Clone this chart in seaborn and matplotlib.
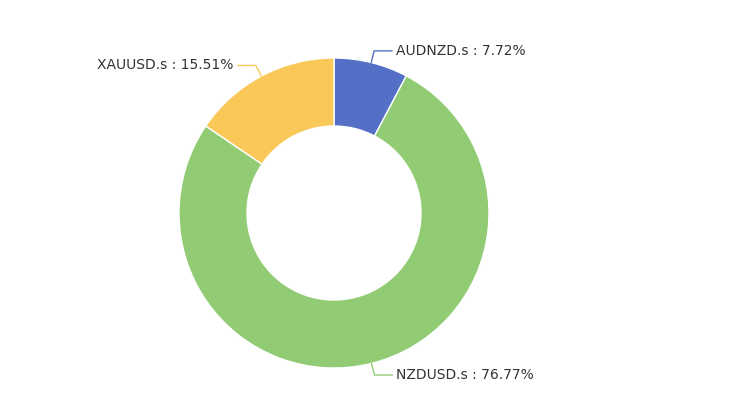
import matplotlib
matplotlib.use("Agg")
import matplotlib.pyplot as plt
import seaborn as sns
import numpy as np

labels = ["AUDNZD.s", "NZDUSD.s", "XAUUSD.s"]
values = [7.72, 76.77, 15.51]
colors = ["#5470c6", "#91cc75", "#fac858"]

sns.set_theme(style="white")
plt.rcParams['font.family'] = ['DejaVu Sans']

fig = plt.figure(figsize=(7.4, 4.16), dpi=100)
ax = fig.add_axes([0, 0, 1, 1])
ax.set_xlim(0, 740)
ax.set_ylim(0, 416)
ax.set_aspect('equal')
ax.axis('off')

cx, cy, R = 334, 416 - 213, 155
wedges, _ = ax.pie(values, colors=colors, startangle=90, counterclock=False,
                   center=(cx, cy), radius=R, frame=True,
                   wedgeprops=dict(width=68, edgecolor='white', linewidth=1))
ax.set_xlim(0, 740)
ax.set_ylim(0, 416)
ax.axis('off')

for w, lab, v, c in zip(wedges, labels, values, colors):
    ang = np.deg2rad((w.theta1 + w.theta2) / 2)
    x0, y0 = cx + R * np.cos(ang), cy + R * np.sin(ang)
    x1, y1 = cx + (R + 12) * np.cos(ang), cy + (R + 12) * np.sin(ang)
    side = 1 if np.cos(ang) >= 0 else -1
    x2 = x1 + side * 18
    ax.plot([x0, x1, x2], [y0, y1, y1], color=c, lw=1)
    ax.text(x2 + side * 4, y1, f"{lab} : {v:.2f}%", ha='left' if side > 0 else 'right',
            va='center', fontsize=10, color='#333333')

fig.savefig("out.png", dpi=100)
